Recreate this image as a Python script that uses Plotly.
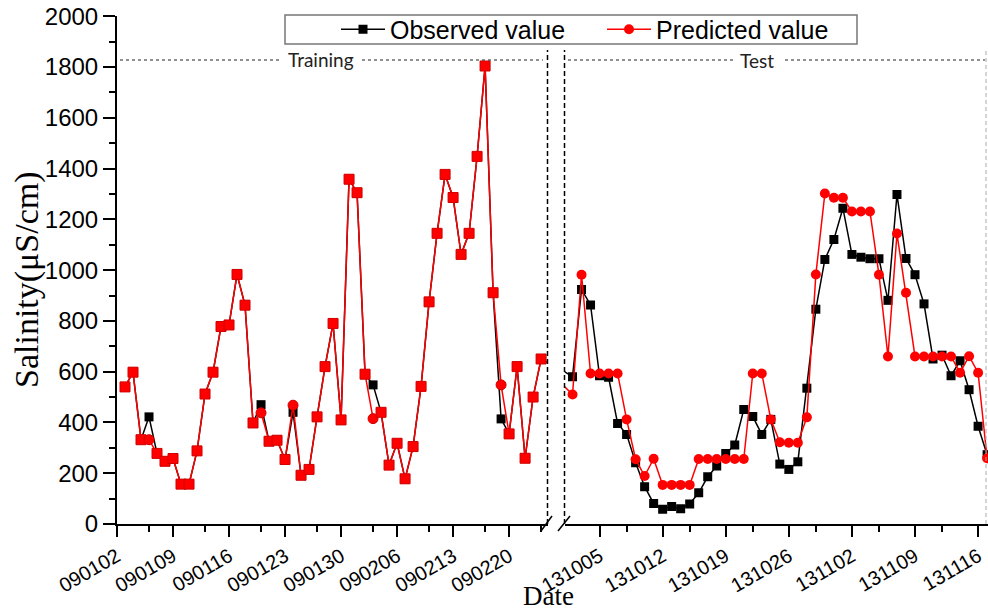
import pandas as pd
import plotly.graph_objects as go

# ---- data ----
train_start = "2009-01-03"
test_start = "2013-09-30"
train_observed = [540, 598, 332, 422, 278, 247, 258, 157, 157, 288, 512, 598, 778, 784, 983, 862,
                  398, 470, 326, 330, 254, 440, 192, 215, 422, 620, 790, 410, 1358, 1305, 590, 548,
                  440, 232, 318, 178, 305, 542, 875, 1145, 1377, 1286, 1062, 1145, 1448, 1804, 911,
                  414, 355, 620, 259, 500, 650, None, 615]
train_predicted = [540, 598, 332, 332, 278, 247, 258, 157, 157, 288, 512, 598, 778, 784, 983, 862,
                   398, 438, 326, 330, 254, 468, 192, 215, 422, 620, 790, 410, 1358, 1305, 590, 415,
                   440, 232, 318, 178, 305, 542, 875, 1145, 1377, 1286, 1062, 1145, 1448, 1804, 911,
                   548, 355, 620, 259, 500, 650, None, 615]
test_observed = [625, None, 580, 924, 863, 584, 578, 396, 353, 241, 147, 81, 58, 69, 60, 79, 123, 186,
                 228, 278, 311, 451, 423, 353, 412, 236, 215, 245, 535, 846, 1042, 1121, 1244,
                 1062, 1051, 1045, 1045, 881, 1298, 1046, 982, 867, 650, 665, 584, 643, 529, 385, 273]
test_predicted = [580, None, 510, 982, 593, 593, 593, 593, 412, 255, 189, 257, 154, 154, 154, 154, 256,
                  256, 256, 256, 256, 256, 593, 593, 412, 322, 320, 320, 420, 983, 1302, 1285, 1285,
                  1231, 1231, 1231, 982, 660, 1144, 911, 660, 660, 660, 660, 660, 596, 661, 596, 259]
train_ticks = ["090102", "090109", "090116", "090123", "090130", "090206", "090213", "090220"]
test_ticks = ["131005", "131012", "131019", "131026", "131102", "131109", "131116"]

train_dates = pd.date_range(train_start, periods=len(train_observed), freq="D")
test_dates = pd.date_range(test_start, periods=len(test_observed), freq="D")

W, H = 988, 614
L, T, B = 117, 16, 90
PW, PH = W - L, H - T - B


def px(x):
    return (x - L) / PW


def py(y):
    return (H - B - y) / PH


fig = go.Figure()
obs_style = dict(color="black", width=1.5)
pred_style = dict(color="#ff0000", width=1.5)
train_sym = ["square" if o == p else "circle" for o, p in zip(train_observed, train_predicted)]

fig.add_trace(go.Scatter(x=train_dates, y=train_observed, mode="lines+markers", line=obs_style,
                         connectgaps=True,
                         marker=dict(symbol="square", size=9, color="black"),
                         showlegend=False, xaxis="x", yaxis="y"))
fig.add_trace(go.Scatter(x=train_dates, y=train_predicted, mode="lines+markers", line=pred_style,
                         connectgaps=True,
                         marker=dict(symbol=train_sym, size=10, color="#ff0000",
                                     line=dict(color="#d00000", width=1)),
                         showlegend=False, xaxis="x", yaxis="y"))
fig.add_trace(go.Scatter(x=test_dates, y=test_observed, mode="lines+markers", line=obs_style,
                         connectgaps=True,
                         marker=dict(symbol="square", size=9, color="black"),
                         name="Observed value", xaxis="x2", yaxis="y"))
fig.add_trace(go.Scatter(x=test_dates, y=test_predicted, mode="lines+markers", line=pred_style,
                         connectgaps=True,
                         marker=dict(symbol="circle", size=10, color="#ff0000"),
                         name="Predicted value", xaxis="x2", yaxis="y"))

xtick_font = dict(family="Liberation Sans, Arial, sans-serif", size=20, color="black")
ytick_font = dict(family="Liberation Sans, Arial, sans-serif", size=24, color="black")
xcommon = dict(type="date", showline=True, linecolor="black", linewidth=2, ticks="outside",
               ticklen=11, tickwidth=2, tickcolor="black", showgrid=False, zeroline=False,
               tickangle=-30, tickfont=xtick_font, tickmode="array")
minor_common = dict(tickmode="array", ticks="outside", ticklen=6, tickwidth=2, tickcolor="black")

fig.update_layout(
    width=W, height=H,
    margin=dict(l=L, r=0, t=T, b=B, autoexpand=False),
    paper_bgcolor="white", plot_bgcolor="white",
    xaxis=dict(domain=[0, px(547.5)], range=["2009-01-02", "2009-02-24 19:12"],
               tickvals=pd.date_range("2009-01-02", periods=len(train_ticks), freq="7D"),
               ticktext=train_ticks,
               minor=dict(tickvals=pd.date_range("2009-01-06", periods=8, freq="7D"), **minor_common),
               **xcommon),
    xaxis2=dict(domain=[px(564.5), 1], anchor="y",
                range=["2013-10-01 02:38", "2013-11-17 02:24"],
                tickvals=pd.date_range("2013-10-05", periods=len(test_ticks), freq="7D"),
                ticktext=test_ticks,
                minor=dict(tickvals=pd.date_range("2013-10-08", periods=6, freq="7D"), **minor_common),
                **xcommon),
    yaxis=dict(range=[0, 2001], tickmode="linear", tick0=0, dtick=200, showline=True,
               linecolor="black", linewidth=2, ticklabeloverflow="allow",
               ticks="outside", ticklen=12, tickwidth=2, tickcolor="black", showgrid=False,
               zeroline=False, tickfont=ytick_font,
               minor=dict(dtick=100, ticks="outside", ticklen=6, tickwidth=2, tickcolor="black")),
    legend=dict(orientation="h", x=px(336), y=py(29.5), xanchor="left", yanchor="middle",
                bgcolor="rgba(0,0,0,0)", borderwidth=0,
                font=dict(family="Liberation Sans, Arial, sans-serif", size=25, color="black"),
                itemwidth=44, entrywidth=207, entrywidthmode="pixels", tracegroupgap=0),
    annotations=[
        dict(text="Training", x=px(321), y=py(60), xref="paper", yref="paper", showarrow=False,
             xanchor="center", yanchor="middle",
             font=dict(family="Lato, sans-serif", size=19, color="#222")),
        dict(text="Test", x=px(757), y=py(61), xref="paper", yref="paper", showarrow=False,
             xanchor="center", yanchor="middle",
             font=dict(family="Lato, sans-serif", size=19, color="#222")),
        dict(text="Date", x=px(548), y=py(596), xref="paper", yref="paper", showarrow=False,
             xanchor="center", yanchor="middle",
             font=dict(family="Liberation Serif, Times New Roman, serif", size=27, color="black")),
        dict(text="Salinity(μS/cm)", x=px(27), y=py(280), xref="paper", yref="paper",
             showarrow=False, textangle=-90, xanchor="center", yanchor="middle",
             font=dict(family="Liberation Serif, Times New Roman, serif", size=34, color="black")),
    ],
)

shapes = [dict(type="rect", xref="paper", yref="paper", x0=px(285), x1=px(857),
               y0=py(44), y1=py(15), fillcolor="white", layer="above",
               line=dict(color="#777", width=1.5))]
for x0, x1 in [(120, 281), (362, 543), (568, 734), (785, 985)]:
    shapes.append(dict(type="line", xref="paper", yref="paper", x0=px(x0), x1=px(x1),
                       y0=py(60), y1=py(60), line=dict(color="#222", width=1.2, dash="dot")))
for xv in (547.5, 564.5):
    shapes.append(dict(type="line", xref="paper", yref="paper", x0=px(xv), x1=px(xv),
                       y0=0, y1=py(50), line=dict(color="black", width=1.5, dash="5px,3px")))
shapes.append(dict(type="line", xref="paper", yref="paper", x0=px(986), x1=px(986),
                   y0=0, y1=py(50), line=dict(color="#aaa", width=1, dash="4px,3px")))
for xa, xb in [(541, 552), (558, 570)]:
    shapes.append(dict(type="line", xref="paper", yref="paper", x0=px(xa), x1=px(xb),
                       y0=py(531), y1=py(516), line=dict(color="black", width=1.5)))
fig.update_layout(shapes=shapes)

fig.write_html("out.html", config={"displayModeBar": False},
               post_script="document.body.style.margin='0';document.body.style.overflow='hidden';")
